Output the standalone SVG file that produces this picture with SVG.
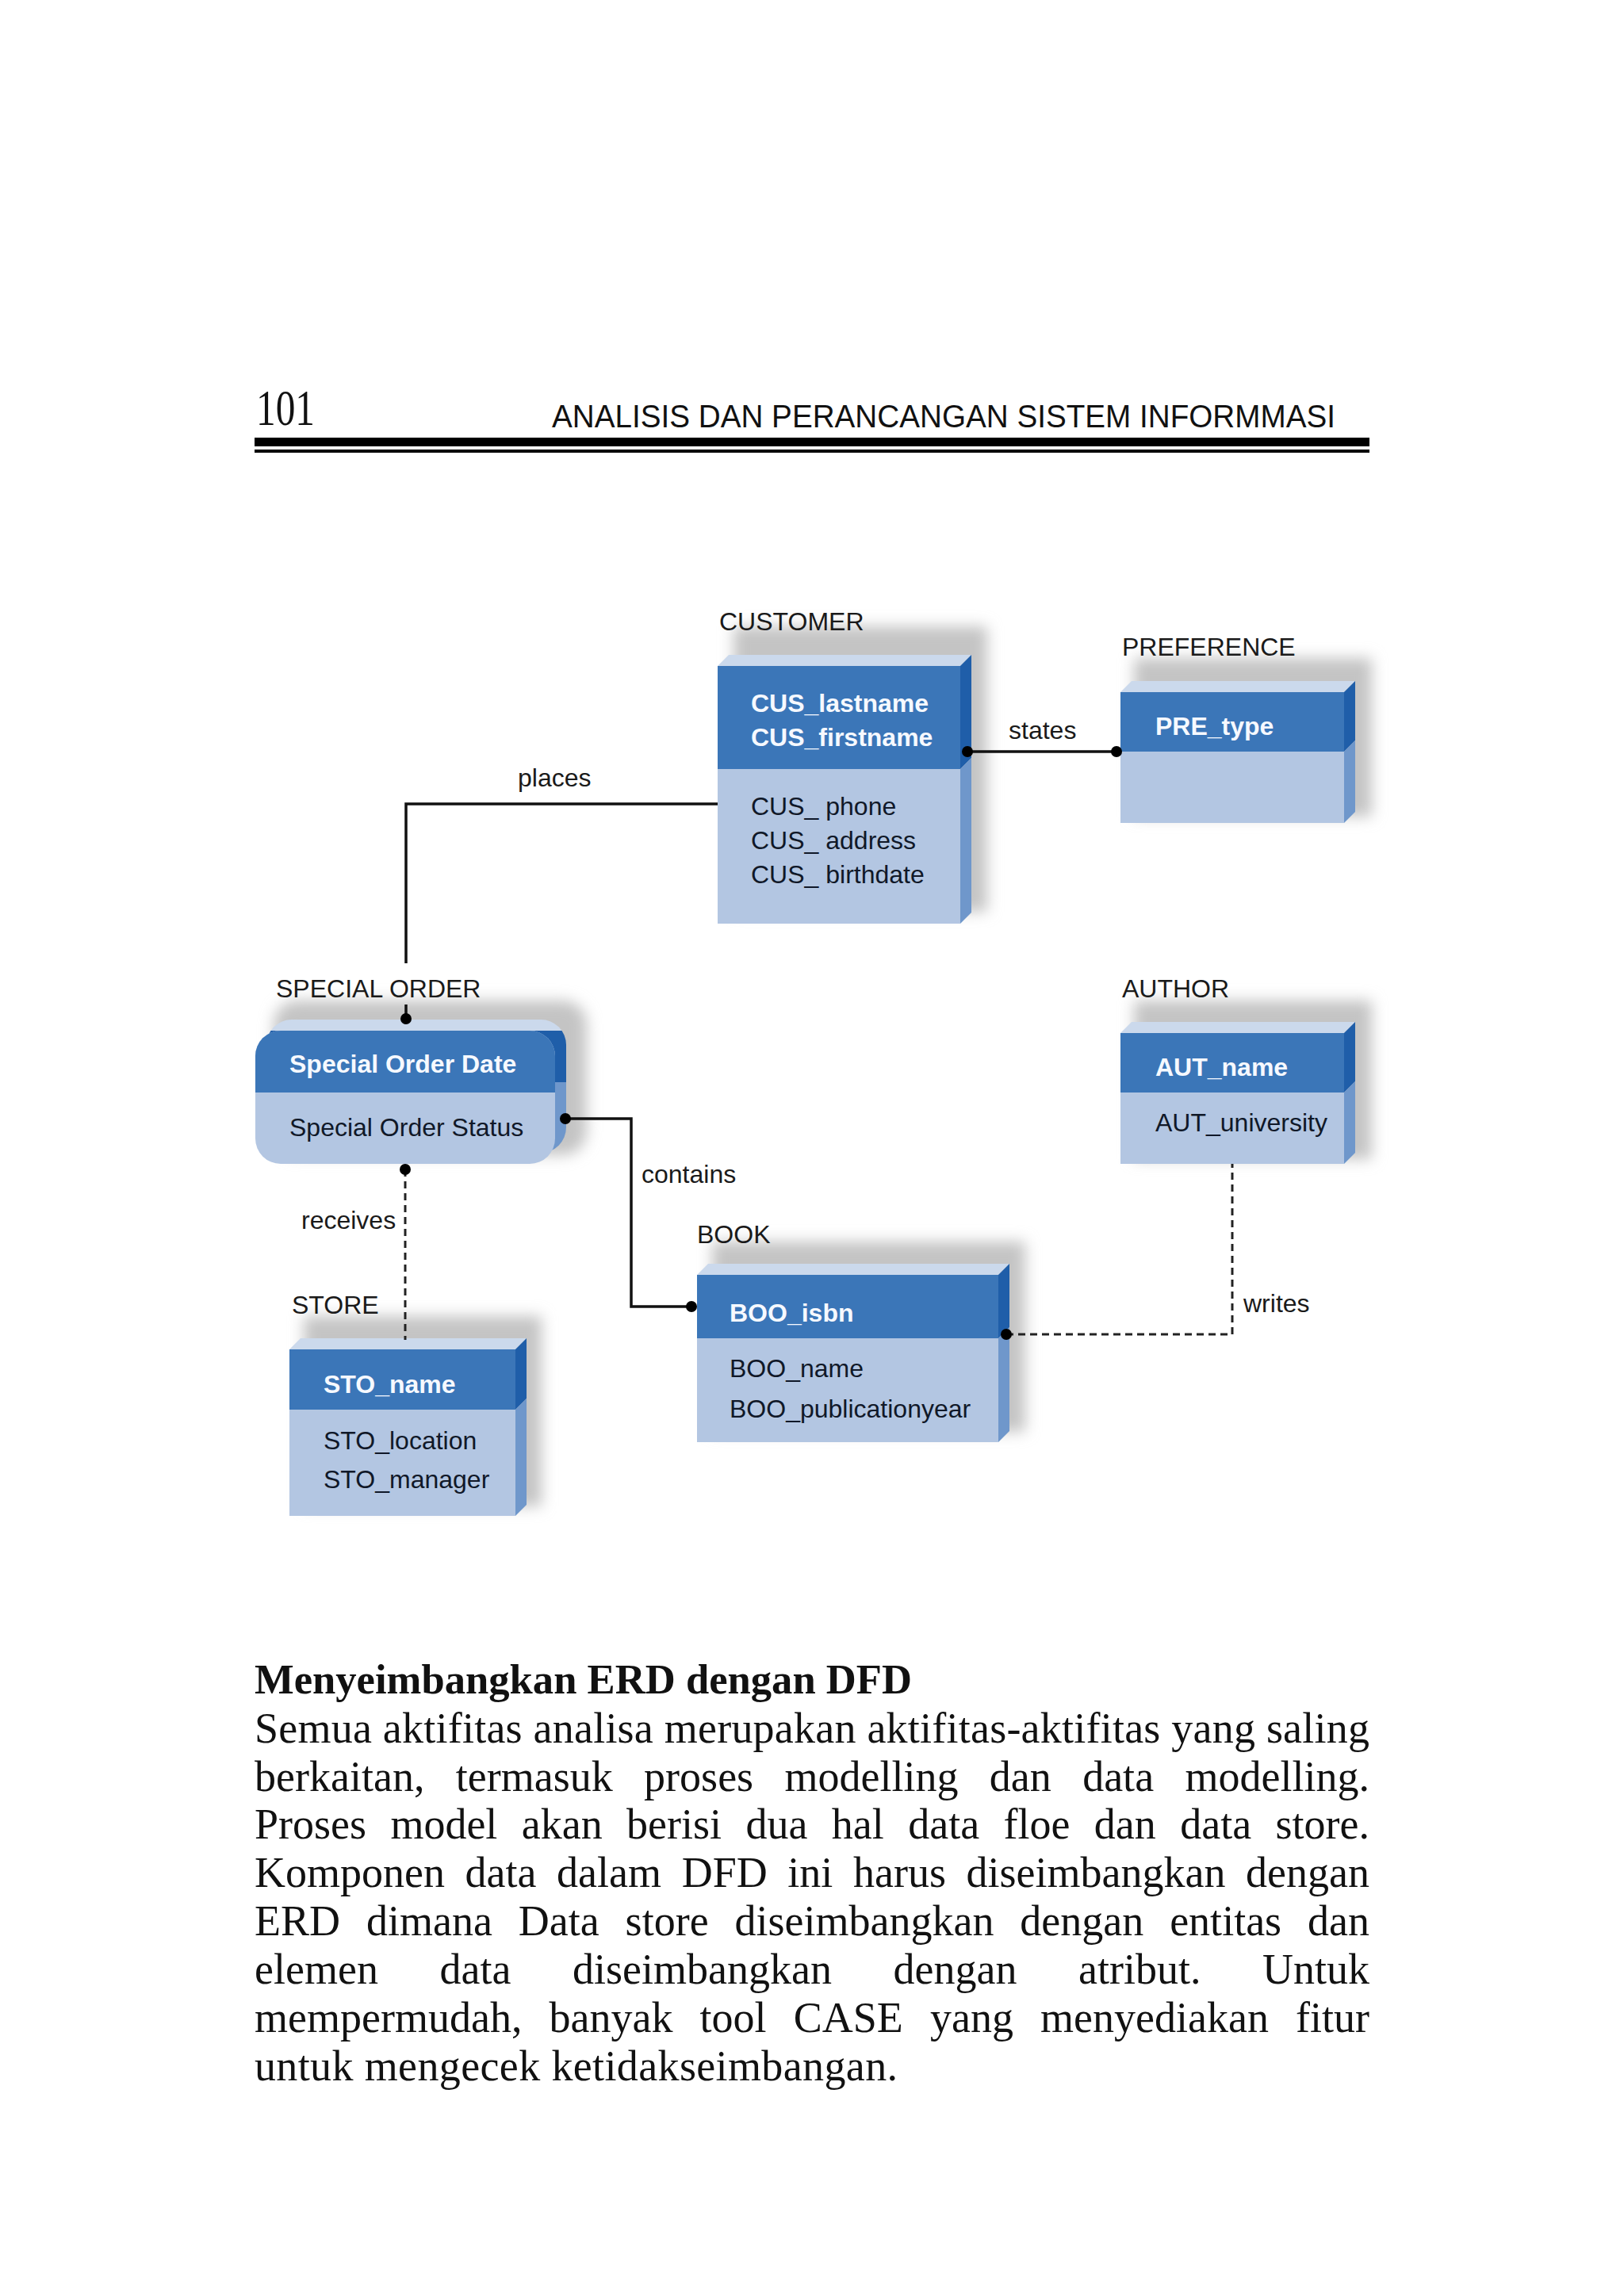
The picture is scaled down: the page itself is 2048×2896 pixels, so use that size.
<svg xmlns="http://www.w3.org/2000/svg" width="2048" height="2896" viewBox="0 0 2048 2896">
<defs>
<style>
.lbl{font-family:"Liberation Sans",Arial,sans-serif;font-size:32px;fill:#1a1a1a}
.key{font-family:"Liberation Sans",Arial,sans-serif;font-size:32px;font-weight:bold;fill:#f6f9ff}
.att{font-family:"Liberation Sans",Arial,sans-serif;font-size:32px;fill:#101828}
.body{font-family:"Liberation Serif","Times New Roman",serif;font-size:54px;fill:#111}
.front{fill:#b3c6e2}
.head{fill:#3b76b8}
.top{fill:#cbd9ec}
.sideD{fill:#1f5ea9}
.sideL{fill:#6f97cb}
.shadow{fill:#c4c4c4;filter:url(#blur)}
.line{fill:none;stroke:#111;stroke-width:3.5}
.dash{fill:none;stroke:#222;stroke-width:3;stroke-dasharray:9 6}
.dot{fill:#000}
</style>
<filter id="blur" x="-20%" y="-30%" width="140%" height="160%"><feGaussianBlur stdDeviation="9"/></filter>
<linearGradient id="soBack" x1="0" y1="0" x2="0" y2="1">
<stop offset="0" stop-color="#cbd9ec"/><stop offset="0.085" stop-color="#cbd9ec"/>
<stop offset="0.085" stop-color="#1f5ea9"/><stop offset="0.47" stop-color="#1f5ea9"/>
<stop offset="0.47" stop-color="#6f97cb"/><stop offset="1" stop-color="#6f97cb"/>
</linearGradient>
<clipPath id="soClip"><rect x="322" y="1300" width="378" height="168" rx="32"/></clipPath>
</defs>
<rect width="2048" height="2896" fill="#fff"/>

<g id="page-header">
<text x="323" y="536" font-family="'Liberation Serif',serif" font-size="64" textLength="74" lengthAdjust="spacingAndGlyphs" fill="#111">101</text>
<text x="696" y="539" font-family="'Liberation Sans',Arial,sans-serif" font-size="41" textLength="988" lengthAdjust="spacingAndGlyphs" fill="#111">ANALISIS DAN PERANCANGAN SISTEM INFORMMASI</text>
<rect x="321" y="552" width="1406" height="11" fill="#000"/>
<rect x="321" y="567" width="1406" height="4" fill="#000"/>
</g>

<g id="customer">
<rect class="shadow" x="925" y="790" width="320" height="360"/>
<polygon class="top" points="905,840 919,826 1225,826 1211,840"/>
<polygon class="sideD" points="1211,840 1225,826 1225,956 1211,970"/>
<polygon class="sideL" points="1211,970 1225,956 1225,1151 1211,1165"/>
<rect class="front" x="905" y="970" width="306" height="195"/>
<rect class="head" x="905" y="840" width="306" height="130"/>
<text class="lbl" x="907" y="795">CUSTOMER</text>
<text class="key" x="947" y="898">CUS_lastname</text>
<text class="key" x="947" y="941">CUS_firstname</text>
<text class="att" x="947" y="1028">CUS_ phone</text>
<text class="att" x="947" y="1071">CUS_ address</text>
<text class="att" x="947" y="1114">CUS_ birthdate</text>
</g>

<g id="preference">
<rect class="shadow" x="1430" y="830" width="300" height="200"/>
<polygon class="top" points="1413,873 1427,859 1709,859 1695,873"/>
<polygon class="sideD" points="1695,873 1709,859 1709,934 1695,948"/>
<polygon class="sideL" points="1695,948 1709,934 1709,1024 1695,1038"/>
<rect class="front" x="1413" y="948" width="282" height="90"/>
<rect class="head" x="1413" y="873" width="282" height="75"/>
<text class="lbl" x="1415" y="827">PREFERENCE</text>
<text class="key" x="1457" y="927">PRE_type</text>
</g>

<g id="special-order">
<rect class="shadow" x="345" y="1262" width="395" height="195" rx="30"/>
<rect x="336" y="1286" width="378" height="168" rx="32" fill="url(#soBack)"/>
<rect class="front" x="322" y="1300" width="378" height="168" rx="32"/>
<rect class="head" x="322" y="1300" width="378" height="78" clip-path="url(#soClip)"/>
<text class="lbl" x="348" y="1258">SPECIAL ORDER</text>
<text class="key" x="365" y="1353">Special Order Date</text>
<text class="att" x="365" y="1433">Special Order Status</text>
</g>

<g id="author">
<rect class="shadow" x="1430" y="1262" width="300" height="200"/>
<polygon class="top" points="1413,1303 1427,1289 1709,1289 1695,1303"/>
<polygon class="sideD" points="1695,1303 1709,1289 1709,1364 1695,1378"/>
<polygon class="sideL" points="1695,1378 1709,1364 1709,1454 1695,1468"/>
<rect class="front" x="1413" y="1378" width="282" height="90"/>
<rect class="head" x="1413" y="1303" width="282" height="75"/>
<text class="lbl" x="1415" y="1258">AUTHOR</text>
<text class="key" x="1457" y="1357">AUT_name</text>
<text class="att" x="1457" y="1427">AUT_university</text>
</g>

<g id="book">
<rect class="shadow" x="898" y="1566" width="395" height="240"/>
<polygon class="top" points="879,1608 893,1594 1273,1594 1259,1608"/>
<polygon class="sideD" points="1259,1608 1273,1594 1273,1674 1259,1688"/>
<polygon class="sideL" points="1259,1688 1273,1674 1273,1805 1259,1819"/>
<rect class="front" x="879" y="1688" width="380" height="131"/>
<rect class="head" x="879" y="1608" width="380" height="80"/>
<text class="lbl" x="879" y="1568">BOOK</text>
<text class="key" x="920" y="1667">BOO_isbn</text>
<text class="att" x="920" y="1737">BOO_name</text>
<text class="att" x="920" y="1788">BOO_publicationyear</text>
</g>

<g id="store">
<rect class="shadow" x="383" y="1660" width="300" height="240"/>
<polygon class="top" points="365,1702 379,1688 664,1688 650,1702"/>
<polygon class="sideD" points="650,1702 664,1688 664,1764 650,1778"/>
<polygon class="sideL" points="650,1778 664,1764 664,1898 650,1912"/>
<rect class="front" x="365" y="1778" width="285" height="134"/>
<rect class="head" x="365" y="1702" width="285" height="76"/>
<text class="lbl" x="368" y="1657">STORE</text>
<text class="key" x="408" y="1757">STO_name</text>
<text class="att" x="408" y="1828">STO_location</text>
<text class="att" x="408" y="1877">STO_manager</text>
</g>

<g id="connectors">
<path class="line" d="M905,1014 H512 V1215"/>
<path class="line" d="M512,1267 V1285"/>
<circle class="dot" cx="512" cy="1285" r="7"/>
<path class="line" d="M1220,948 H1408"/>
<circle class="dot" cx="1220" cy="948" r="7"/>
<circle class="dot" cx="1408" cy="948" r="7"/>
<path class="line" d="M713,1411 H796 V1648 H872"/>
<circle class="dot" cx="713" cy="1411" r="7"/>
<circle class="dot" cx="872" cy="1648" r="7"/>
<path class="dash" d="M511,1475 V1690"/>
<circle class="dot" cx="511" cy="1475" r="7"/>
<path class="dash" d="M1269,1683 H1554 V1468"/>
<circle class="dot" cx="1269" cy="1683" r="7"/>
<text class="lbl" x="653" y="992">places</text>
<text class="lbl" x="1272" y="932">states</text>
<text class="lbl" x="809" y="1492">contains</text>
<text class="lbl" x="380" y="1550">receives</text>
<text class="lbl" x="1568" y="1655">writes</text>
</g>

<g id="text-block">
<text x="321" y="2136" font-family="'Liberation Serif','Times New Roman',serif" font-size="52" font-weight="bold" textLength="829" lengthAdjust="spacingAndGlyphs" fill="#111">Menyeimbangkan ERD dengan DFD</text>
<text class="body" x="321" y="2198" textLength="1406" lengthAdjust="spacing">Semua aktifitas analisa merupakan aktifitas-aktifitas yang saling</text>
<text class="body" x="321" y="2259" word-spacing="25.8" textLength="1406" lengthAdjust="spacing">berkaitan, termasuk proses modelling dan data modelling.</text>
<text class="body" x="321" y="2319" word-spacing="16.9" textLength="1406" lengthAdjust="spacing">Proses model akan berisi dua hal data floe dan data store.</text>
<text class="body" x="321" y="2380" word-spacing="12.1" textLength="1406" lengthAdjust="spacing">Komponen data dalam DFD ini harus diseimbangkan dengan</text>
<text class="body" x="321" y="2441" word-spacing="19.4" textLength="1406" lengthAdjust="spacing">ERD dimana Data store diseimbangkan dengan entitas dan</text>
<text class="body" x="321" y="2502" word-spacing="64" textLength="1406" lengthAdjust="spacing">elemen data diseimbangkan dengan atribut. Untuk</text>
<text class="body" x="321" y="2563" word-spacing="20.6" textLength="1406" lengthAdjust="spacing">mempermudah, banyak tool CASE yang menyediakan fitur</text>
<text class="body" x="321" y="2624" textLength="811" lengthAdjust="spacing">untuk mengecek ketidakseimbangan.</text>
</g>
</svg>
